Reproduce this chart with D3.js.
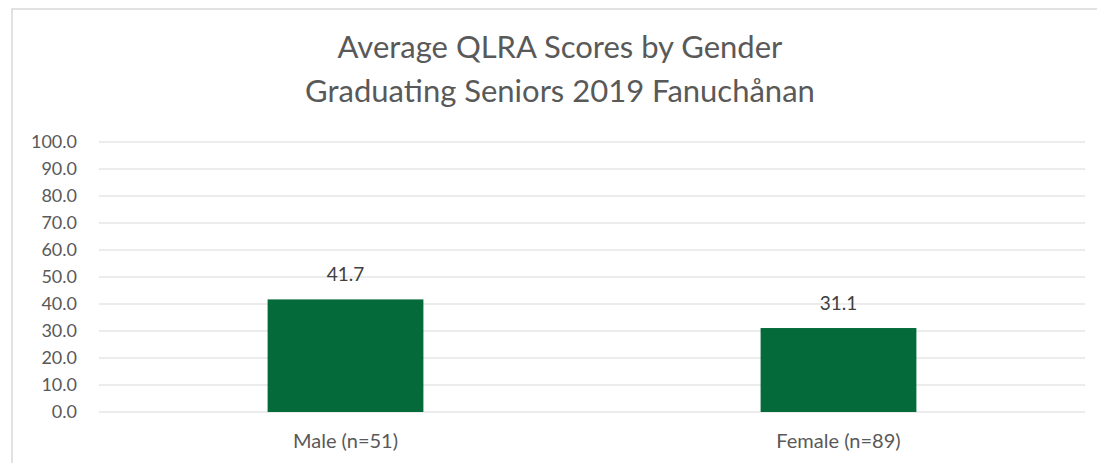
<!DOCTYPE html>
<html>
<head>
<meta charset="utf-8">
<script src="https://cdn.jsdelivr.net/npm/d3@7"></script>
<style>
  body { margin: 0; background: #fff; }
  svg { display: block; }
</style>
</head>
<body>
<script>
// data
var categories = ["Male (n=51)", "Female (n=89)"];
var scores = [41.7, 31.1];
var yTicks = [0, 10, 20, 30, 40, 50, 60, 70, 80, 90, 100];
var titleLines = ["Average QLRA Scores by Gender", "Graduating Seniors 2019 Fanuchånan"];

var width = 1097, height = 463;
var plotLeft = 99, plotRight = 1085, plotTop = 142, plotBottom = 412;
var font = "Lato, 'Open Sans', sans-serif";

var svg = d3.select("body").append("svg")
    .attr("width", width)
    .attr("height", height);

// outer chart frame
svg.append("rect")
    .attr("x", 12)
    .attr("y", 9)
    .attr("width", width)
    .attr("height", height)
    .attr("fill", "#fff")
    .attr("stroke", "#d9d9d9")
    .attr("stroke-width", 1.5);

//*********** title *******************
svg.selectAll(".title")
    .data(titleLines)
    .enter().append("text")
    .attr("class", "title")
    .attr("x", 560)
    .attr("y", function(d, i) { return 58 + i*44; })
    .attr("text-anchor", "middle")
    .attr("font-family", font)
    .style("font-size", "31px")
    .style("fill", "#595959")
    .text(function(d) { return d; });

//*********** scales *******************
var x = d3.scaleBand()
    .domain(categories)
    .range([plotLeft, plotRight])
    .paddingInner(0.684)
    .paddingOuter(0.342);

var y = d3.scaleLinear()
    .domain([0, 100])
    .range([plotBottom, plotTop]);

// gridlines
svg.append("g")
    .selectAll("line")
    .data(yTicks)
    .enter().append("line")
    .attr("x1", plotLeft)
    .attr("x2", plotRight)
    .attr("y1", function(d) { return y(d); })
    .attr("y2", function(d) { return y(d); })
    .attr("stroke", "#d9d9d9")
    .attr("stroke-width", 1.2);

// y axis labels
var yAxis = svg.append("g")
    .attr("transform", "translate(" + (plotLeft - 22) + ",0)")
    .call(d3.axisLeft(y).tickValues(yTicks).tickFormat(d3.format(".1f")).tickSize(0).tickPadding(0));
yAxis.select(".domain").remove();
yAxis.selectAll("text")
    .attr("font-family", font)
    .style("font-size", "18px")
    .style("fill", "#595959");

// bars
svg.selectAll(".bar")
    .data(scores)
    .enter().append("rect")
    .attr("class", "bar")
    .attr("x", function(d, i) { return x(categories[i]); })
    .attr("y", function(d) { return y(d); })
    .attr("width", x.bandwidth())
    .attr("height", function(d) { return y(0) - y(d); })
    .attr("fill", "#056a39");

// value labels
svg.selectAll(".val")
    .data(scores)
    .enter().append("text")
    .attr("class", "val")
    .attr("x", function(d, i) { return x(categories[i]) + x.bandwidth()/2; })
    .attr("y", function(d) { return y(d) - 18; })
    .attr("text-anchor", "middle")
    .attr("font-family", font)
    .style("font-size", "19px")
    .style("fill", "#404040")
    .text(function(d) { return d3.format(".1f")(d); });

// category labels
var xAxis = svg.append("g")
    .attr("transform", "translate(0," + plotBottom + ")")
    .call(d3.axisBottom(x).tickSize(0).tickPadding(22));
xAxis.select(".domain").remove();
xAxis.selectAll("text")
    .attr("font-family", font)
    .style("font-size", "20px")
    .style("fill", "#595959");
</script>
</body>
</html>
